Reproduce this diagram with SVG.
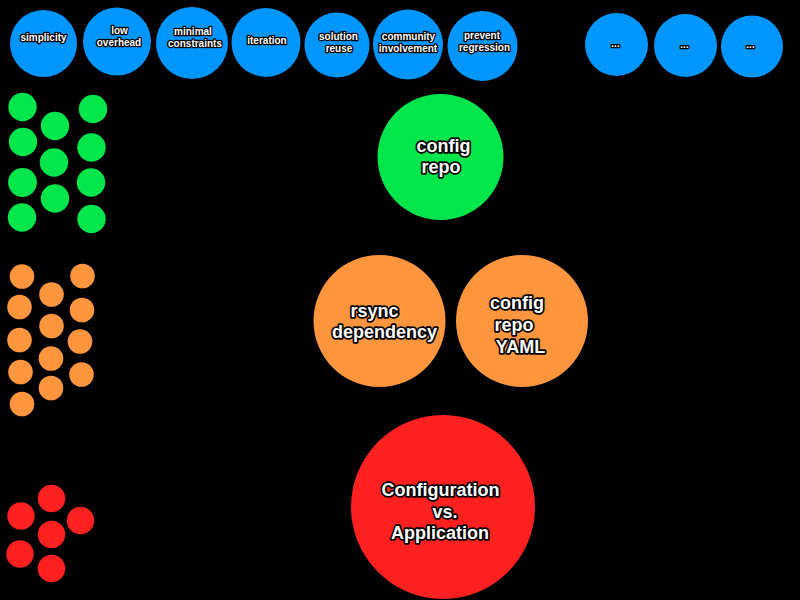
<svg xmlns="http://www.w3.org/2000/svg" width="800" height="600" viewBox="0 0 800 600">
<defs>
<style>
.blue{fill:#0096ff}
.green{fill:#00e64b}
.orange{fill:#ff963e}
.red{fill:#ff2020}
text{font-family:"Liberation Sans",Arial,Helvetica,sans-serif;font-weight:bold;fill:#fff;stroke:#000;stroke-linejoin:round;paint-order:stroke;text-anchor:middle}
.s{font-size:10px;stroke-width:2.6px}
.l{font-size:18px;stroke-width:3.4px}
</style>
</defs>
<rect x="0" y="0" width="800" height="600" fill="#000"/>
<g id="connectors"/>
<g id="values">
<g id="n-simplicity"><circle class="blue" cx="43.5" cy="43.5" r="33.5"/><text class="s" x="43.5" y="41">simplicity</text></g>
<g id="n-low-overhead"><circle class="blue" cx="117" cy="41.5" r="34"/><text class="s" x="119.5" y="33.5">low</text><text class="s" x="119" y="45.5">overhead</text></g>
<g id="n-minimal-constraints"><circle class="blue" cx="192" cy="43" r="36"/><text class="s" x="193" y="35">minimal</text><text class="s" x="195" y="47">constraints</text></g>
<g id="n-iteration"><circle class="blue" cx="266" cy="42.5" r="34.5"/><text class="s" x="267" y="44">iteration</text></g>
<g id="n-solution-reuse"><circle class="blue" cx="337" cy="45" r="32.5"/><text class="s" x="338.5" y="39.5">solution</text><text class="s" x="339" y="52">reuse</text></g>
<g id="n-community-involvement"><circle class="blue" cx="408" cy="44.5" r="35"/><text class="s" x="408.5" y="39.5">community</text><text class="s" x="408" y="52">involvement</text></g>
<g id="n-prevent-regression"><circle class="blue" cx="482.5" cy="46" r="35"/><text class="s" x="482" y="38.5">prevent</text><text class="s" x="484.5" y="50.5">regression</text></g>
<g id="n-more-1"><circle class="blue" cx="616.5" cy="44.5" r="31.5"/><text class="s" x="615.5" y="47">...</text></g>
<g id="n-more-2"><circle class="blue" cx="685.5" cy="45.5" r="31.5"/><text class="s" x="684.5" y="48">...</text></g>
<g id="n-more-3"><circle class="blue" cx="752" cy="46.5" r="31"/><text class="s" x="750.5" y="48">...</text></g>
</g>
<g id="green-dots">
<g id="g1"><circle class="green" cx="22.5" cy="107" r="14.2"/></g>
<g id="g2"><circle class="green" cx="93" cy="109" r="14.2"/></g>
<g id="g3"><circle class="green" cx="55" cy="126" r="14.2"/></g>
<g id="g4"><circle class="green" cx="23" cy="142" r="14.2"/></g>
<g id="g5"><circle class="green" cx="91.5" cy="147.5" r="14.2"/></g>
<g id="g6"><circle class="green" cx="54" cy="162.5" r="14.2"/></g>
<g id="g7"><circle class="green" cx="22.5" cy="182.5" r="14.4"/></g>
<g id="g8"><circle class="green" cx="91" cy="182.5" r="14.2"/></g>
<g id="g9"><circle class="green" cx="55" cy="198.5" r="14.2"/></g>
<g id="g10"><circle class="green" cx="22" cy="217.5" r="14.2"/></g>
<g id="g11"><circle class="green" cx="91.5" cy="219" r="14.2"/></g>
</g>
<g id="orange-dots">
<g id="o1"><circle class="orange" cx="22" cy="276.5" r="12.3"/></g>
<g id="o2"><circle class="orange" cx="82.5" cy="276" r="12.3"/></g>
<g id="o3"><circle class="orange" cx="51.5" cy="294.5" r="12.3"/></g>
<g id="o4"><circle class="orange" cx="19.5" cy="307" r="12.3"/></g>
<g id="o5"><circle class="orange" cx="82" cy="310" r="12.3"/></g>
<g id="o6"><circle class="orange" cx="51.5" cy="326" r="12.3"/></g>
<g id="o7"><circle class="orange" cx="19.5" cy="340" r="12.3"/></g>
<g id="o8"><circle class="orange" cx="80" cy="341.5" r="12.3"/></g>
<g id="o9"><circle class="orange" cx="51" cy="358.5" r="12.3"/></g>
<g id="o10"><circle class="orange" cx="20.5" cy="372" r="12.3"/></g>
<g id="o11"><circle class="orange" cx="81.5" cy="374.5" r="12.3"/></g>
<g id="o12"><circle class="orange" cx="51" cy="388" r="12.3"/></g>
<g id="o13"><circle class="orange" cx="22" cy="404" r="12.3"/></g>
</g>
<g id="red-dots">
<g id="r1"><circle class="red" cx="51.5" cy="498.5" r="13.7"/></g>
<g id="r2"><circle class="red" cx="21" cy="516" r="13.7"/></g>
<g id="r3"><circle class="red" cx="80.5" cy="520.5" r="13.7"/></g>
<g id="r4"><circle class="red" cx="51.5" cy="534.5" r="13.7"/></g>
<g id="r5"><circle class="red" cx="20" cy="554" r="13.7"/></g>
<g id="r6"><circle class="red" cx="51.5" cy="568.5" r="13.7"/></g>
</g>
<g id="n-config-repo"><circle class="green" cx="440.5" cy="157" r="63"/><text class="l" x="443.5" y="152">config</text><text class="l" x="441" y="173">repo</text></g>
<g id="n-rsync-dependency"><circle class="orange" cx="379.5" cy="321" r="66"/><text class="l" x="374.5" y="317">rsync</text><text class="l" x="384.5" y="338">dependency</text></g>
<g id="n-config-repo-yaml"><circle class="orange" cx="522" cy="321" r="66"/><text class="l" x="517" y="309">config</text><text class="l" x="514" y="331">repo</text><text class="l" x="520.5" y="353">YAML</text></g>
<g id="n-config-vs-app"><circle class="red" cx="443" cy="507" r="92"/><text class="l" x="440.5" y="496">Configuration</text><text class="l" x="445" y="517.5">vs.</text><text class="l" x="440" y="539">Application</text></g>
</svg>
